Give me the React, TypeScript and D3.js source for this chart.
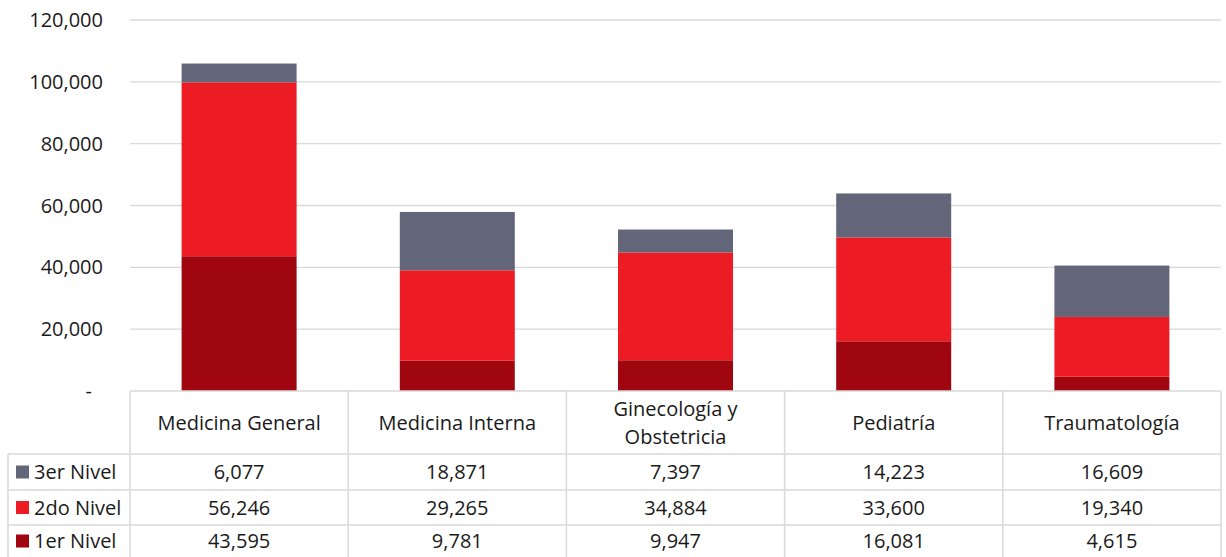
import React from "react";
import * as d3 from "d3";

const categories = ["Medicina General", "Medicina Interna", "Ginecología y Obstetricia", "Pediatría", "Traumatología"];
const categoryLines: string[][] = [["Medicina General"], ["Medicina Interna"], ["Ginecología y", "Obstetricia"], ["Pediatría"], ["Traumatología"]];
const nivel1 = [43595, 9781, 9947, 16081, 4615];
const nivel2 = [56246, 29265, 34884, 33600, 19340];
const nivel3 = [6077, 18871, 7397, 14223, 16609];
const seriesNames = ["1er Nivel", "2do Nivel", "3er Nivel"];
const seriesColors = ["#A0060F", "#ED1C24", "#636678"];
const yTicks = [0, 20000, 40000, 60000, 80000, 100000, 120000];

export default function App() {
  const W = 1226, H = 557;
  const left = 130, right = 1221, top = 20, bottom = 391;
  const font = "'Open Sans', 'Noto Sans', sans-serif";
  const x = d3.scaleBand<string>().domain(categories).range([left, right]).paddingInner(0).paddingOuter(0);
  const y = d3.scaleLinear().domain([0, 120000]).range([bottom, top]);
  const barW = x.bandwidth() * 0.527;
  const data = categories.map((c, i) => ({ cat: c, n1: nivel1[i], n2: nivel2[i], n3: nivel3[i] }));
  const stack = d3.stack<any>().keys(["n1", "n2", "n3"])(data);
  const fmt = d3.format(",");
  const grid = "#D9D9D9";
  const rowY = [391, 454, 490, 525, 557];
  const tableRows = [
    { name: seriesNames[2], color: seriesColors[2], vals: nivel3 },
    { name: seriesNames[1], color: seriesColors[1], vals: nivel2 },
    { name: seriesNames[0], color: seriesColors[0], vals: nivel1 },
  ];
  const fs = 20;
  return (
    <svg width={W} height={H} style={{ position: "absolute", left: 0, top: 0 }} fontFamily={font}>
      <rect width={W} height={H} fill="#fff" />
      {yTicks.filter(t => t > 0).map(t => (
        <line key={t} x1={left} x2={right} y1={y(t)} y2={y(t)} stroke={grid} strokeWidth={1.3} />
      ))}
      {yTicks.map(t => (
        <text key={"l" + t} x={t === 0 ? 92 : 103} y={y(t) + 7} textAnchor="end" fontSize={fs} fill="#1a1a1a">
          {t === 0 ? "-" : fmt(t)}
        </text>
      ))}
      {stack.map((s, si) => (
        <g key={si} fill={seriesColors[si]}>
          {s.map((d, i) => (
            <rect key={i} x={x(categories[i])! + (x.bandwidth() - barW) / 2} width={barW}
              y={y(d[1])} height={y(d[0]) - y(d[1])} />
          ))}
        </g>
      ))}
      {/* table */}
      <g stroke={grid} strokeWidth={1.5} fill="none">
        <line x1={left} x2={right} y1={rowY[0]} y2={rowY[0]} />
        {rowY.slice(1, 4).map(r => <line key={r} x1={8} x2={right} y1={r} y2={r} />)}
        <line x1={8} x2={8} y1={rowY[1]} y2={H} />
        {categories.map((c, i) => <line key={c} x1={x(c)!} x2={x(c)!} y1={rowY[0]} y2={H} />)}
        <line x1={right} x2={right} y1={rowY[0]} y2={H} />
      </g>
      {categoryLines.map((lines, i) => {
        const cx = x(categories[i])! + x.bandwidth() / 2;
        const cy = (rowY[0] + rowY[1]) / 2;
        return lines.map((ln, j) => (
          <text key={i + "-" + j} x={cx} y={cy + 7 + (j - (lines.length - 1) / 2) * 28} textAnchor="middle" fontSize={fs} fill="#1a1a1a">{ln}</text>
        ));
      })}
      {tableRows.map((r, ri) => {
        const cy = (rowY[ri + 1] + rowY[ri + 2]) / 2;
        return (
          <g key={r.name}>
            <rect x={16} y={cy - 6.5} width={13} height={13} fill={r.color} />
            <text x={34} y={cy + 7} fontSize={fs} fill="#1a1a1a">{r.name}</text>
            {r.vals.map((v, i) => (
              <text key={i} x={x(categories[i])! + x.bandwidth() / 2} y={cy + 7} textAnchor="middle" fontSize={fs} fill="#1a1a1a">{fmt(v)}</text>
            ))}
          </g>
        );
      })}
    </svg>
  );
}
